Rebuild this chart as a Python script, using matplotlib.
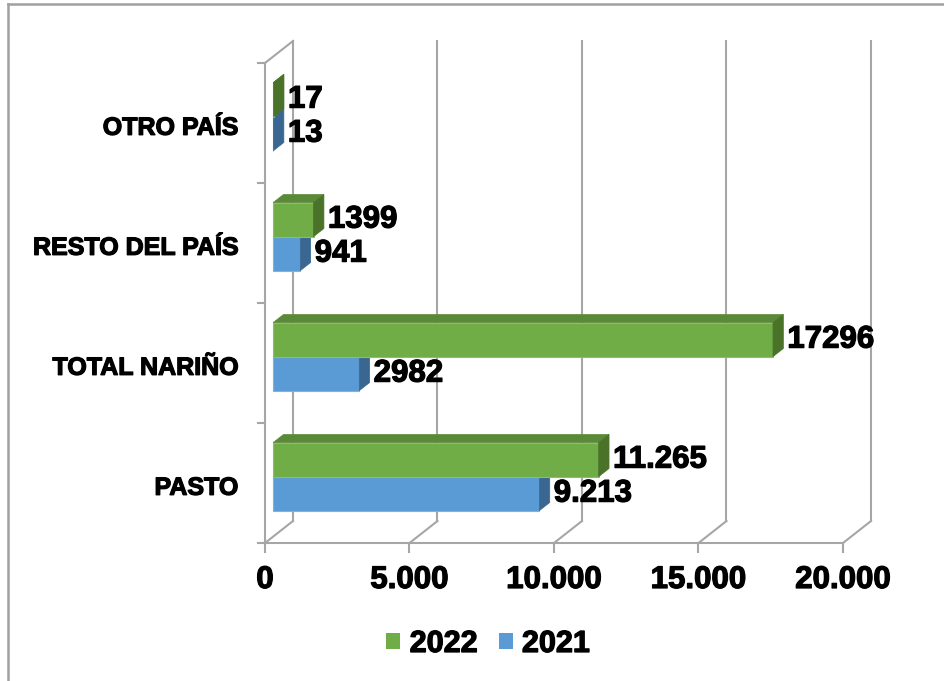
import matplotlib
matplotlib.use("Agg")
import matplotlib.pyplot as plt
from matplotlib.patches import Polygon, Patch
from matplotlib.lines import Line2D
import matplotlib.patheffects as pe

categories = ["PASTO", "TOTAL NARIÑO", "RESTO DEL PAÍS", "OTRO PAÍS"]
series_names = ["2022", "2021"]
values_2022 = [11265, 17296, 1399, 17]
values_2021 = [9213, 2982, 941, 13]
labels_2022 = ["11.265", "17296", "1399", "17"]
labels_2021 = ["9.213", "2982", "941", "13"]
x_ticks = [0, 5000, 10000, 15000, 20000]
x_tick_labels = ["0", "5.000", "10.000", "15.000", "20.000"]

plt.rcParams['font.family'] = ['Liberation Sans', 'DejaVu Sans']

W, H, DPI = 944, 681, 100
fig = plt.figure(figsize=(W / DPI, H / DPI), dpi=DPI)
ax = fig.add_axes([0, 0, 1, 1])
ax.axis('off')

# scale: pixels per data unit
k = 578 / 20000.0
x0px = 265
cat_px = 120.0
base_py = 483
ax.set_xlim(-x0px / k, (W - x0px) / k)
ax.set_ylim((base_py - H) / cat_px, base_py / cat_px)

DX = 28 / k
DY = 22 / cat_px
f0, f1 = 0.29, 0.66
bh = 34 / cat_px

grid_c = '#A6A6A6'
glw = 1.5

# back wall gridlines and floor diagonals
ybot, ytop = -0.5, len(categories) - 0.5
for t in x_ticks:
    ax.plot([t + DX, t + DX], [ybot + DY, ytop + DY], color=grid_c, lw=glw, zorder=1)
    ax.plot([t, t + DX], [ybot, ybot + DY], color=grid_c, lw=glw, zorder=1)
    ax.plot([t, t], [ybot, ybot - 9 / cat_px], color=grid_c, lw=glw, zorder=1)
ax.plot([0, x_ticks[-1]], [ybot, ybot], color=grid_c, lw=glw, zorder=1)
ax.plot([0, 0], [ybot, ytop], color=grid_c, lw=glw, zorder=1)
ax.plot([0, DX], [ytop, ytop + DY], color=grid_c, lw=glw, zorder=1)
for j in range(len(categories) + 1):
    yy = j - 0.5
    ax.plot([-7 / k, 0], [yy, yy], color=grid_c, lw=glw, zorder=1)

colors = {
    "2022": ("#70AD47", "#5A8A37", "#4A7229", "#8CC068"),
    "2021": ("#5B9BD5", "#4A7FB0", "#3A6791", "#7FB2E0"),
}


def draw_bar(v, y0, y1, cols, z):
    front, top, side, edge = cols
    fx0, fy = f0 * DX, f0 * DY
    bx0, by = f1 * DX, f1 * DY
    ax.add_patch(Polygon([(fx0, y0 + fy), (v + fx0, y0 + fy), (v + fx0, y1 + fy), (fx0, y1 + fy)],
                         closed=True, facecolor=front, edgecolor=edge, lw=0.8, zorder=z))
    ax.add_patch(Polygon([(fx0, y1 + fy), (v + fx0, y1 + fy), (v + bx0, y1 + by), (bx0, y1 + by)],
                         closed=True, facecolor=top, edgecolor=top, lw=0.5, zorder=z))
    ax.add_patch(Polygon([(v + fx0, y0 + fy), (v + bx0, y0 + by), (v + bx0, y1 + by), (v + fx0, y1 + fy)],
                         closed=True, facecolor=side, edgecolor=side, lw=0.5, zorder=z))


heavy = [pe.withStroke(linewidth=0.9, foreground='black')]
lab_fs = 22.5
for i, cat in enumerate(categories):
    draw_bar(values_2021[i], i - bh, i, colors["2021"], 3)
    draw_bar(values_2022[i], i, i + bh, colors["2022"], 4)
    ax.text(values_2022[i] + f1 * DX + 4 / k, i + bh / 2 + f0 * DY, labels_2022[i],
            ha='left', va='center', fontsize=lab_fs, fontweight='bold', zorder=6, path_effects=heavy)
    ax.text(values_2021[i] + f1 * DX + 4 / k, i - bh / 2 + f0 * DY, labels_2021[i],
            ha='left', va='center', fontsize=lab_fs, fontweight='bold', zorder=6, path_effects=heavy)
    ax.text(-27 / k, i - 0.04, cat, ha='right', va='center', fontsize=18, fontweight='bold',
            zorder=6, path_effects=heavy)

tick_y = (base_py - 580) / cat_px
for t, tl in zip(x_ticks, x_tick_labels):
    ax.text(t, tick_y, tl, ha='center', va='center', fontsize=lab_fs, fontweight='bold', path_effects=heavy)

handles = [Patch(facecolor=colors["2022"][0], edgecolor='none'),
           Patch(facecolor=colors["2021"][0], edgecolor='none')]
leg = fig.legend(handles, series_names, loc='center', bbox_to_anchor=(0.517, 1 - 644 / H), ncol=2,
                 frameon=False, prop={'size': 22, 'weight': 'bold'}, handlelength=0.46,
                 handleheight=0.46, handletextpad=0.3, columnspacing=0.7)
for txt in leg.get_texts():
    txt.set_path_effects(heavy)

# outer frame (left and top)
fig.add_artist(Line2D([8 / W, 8 / W], [0, 1 - 3.5 / H], transform=fig.transFigure, color='#A0A0A0', lw=1.8))
fig.add_artist(Line2D([8 / W, 1], [1 - 3.5 / H, 1 - 3.5 / H], transform=fig.transFigure, color='#A0A0A0', lw=1.8))

fig.savefig("out.png", dpi=DPI)
